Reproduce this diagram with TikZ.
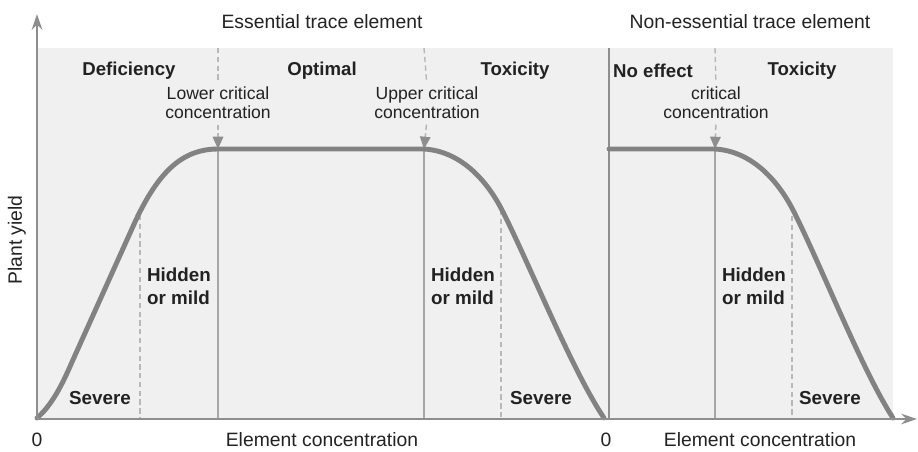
\documentclass[tikz,border=0pt]{standalone}
\usepackage{fontspec}
\setmainfont{Liberation Sans}
\usetikzlibrary{arrows.meta}
\definecolor{panelfill}{HTML}{F0F0F0}
\definecolor{curvegray}{HTML}{828282}
\definecolor{axisgray}{HTML}{8E8E8E}
\definecolor{linegray}{HTML}{A6A6A6}
\definecolor{dashgray}{HTML}{B8B8B8}
\definecolor{ink}{HTML}{222222}
\begin{document}
\begin{tikzpicture}[x=0.02cm, y=-0.02cm,
    every node/.style={text=ink, inner sep=0pt},
    title/.style={font=\fontsize{11}{13}\selectfont},
    region/.style={font=\fontsize{10.6}{12}\selectfont\bfseries},
    symptom/.style={font=\fontsize{10.7}{13}\selectfont\bfseries, align=left},
    critical/.style={font=\fontsize{10}{10.8}\selectfont, align=center},
    axislabel/.style={font=\fontsize{11}{13}\selectfont},
    axis/.style={axisgray, line width=1.1pt, -{Stealth[width=6pt,length=9pt]}},
    border/.style={linegray, line width=0.9pt},
    boundary/.style={dashgray, line width=0.8pt, dash pattern=on 3pt off 2pt},
    pointer/.style={dashgray, line width=0.9pt, dash pattern=on 3pt off 2pt,
                    -{Triangle[width=6pt,length=7pt,color=axisgray]}},
    yieldcurve/.style={curvegray, line width=2.8pt, line cap=round, line join=round}]
  \useasboundingbox (0,0) rectangle (918,451);
  % panels
  \fill[panelfill] (37,48) rectangle (893,419);
  \coordinate (origin) at (37,419);
  \coordinate (ytip) at (37,14);
  \coordinate (xtip) at (917,419);
  \coordinate (origintwo) at (609,419);
  \coordinate (paneltop) at (609,48);
  \draw[border, line width=1.1pt, axisgray] (origintwo) -- (paneltop);

  % titles and regions
  \node[title] (essential) at (322,22) {Essential trace element};
  \node[title] (nonessential) at (750,22) {Non-essential trace element};
  \node[region] (deficiency) at (129,71) {Deficiency};
  \node[region] (optimal) at (322,71) {Optimal};
  \node[region] (toxicone) at (515,71) {Toxicity};
  \node[region] (noeffect) at (653,71) {No effect};
  \node[region] (toxictwo) at (802,71) {Toxicity};

  % critical concentrations
  \node[critical] (lower) at (218,103) {Lower critical\\concentration};
  \node[critical] (upper) at (427,103) {Upper critical\\concentration};
  \node[critical] (crit) at (716,103) {critical\\concentration};
  \coordinate (lowertop) at (218,48);
  \coordinate (lowerpeak) at (218,149);
  \coordinate (lowerfoot) at (218,419);
  \coordinate (uppertop) at (424,48);
  \coordinate (upperpeak) at (424,149);
  \coordinate (upperfoot) at (424,419);
  \coordinate (crittop) at (715,48);
  \coordinate (critpeak) at (715,149);
  \coordinate (critfoot) at (715,419);
  \draw[boundary, shorten >=3pt] (lowertop) -- (lower.north);
  \draw[boundary, shorten >=3pt] (uppertop) -- (upper.north);
  \draw[boundary, shorten >=3pt] (crittop) -- (crit.north);
  \draw[pointer, shorten <=3pt] (lower.south) -- (lowerpeak);
  \draw[pointer, shorten <=3pt] (upper.south) -- (upperpeak);
  \draw[pointer, shorten <=3pt] (crit.south) -- (critpeak);
  \draw[border] (lowerpeak) -- (lowerfoot);
  \draw[border] (upperpeak) -- (upperfoot);
  \draw[border] (critpeak) -- (critfoot);

  % severe / mild boundaries
  \coordinate (mildone) at (140,215);
  \coordinate (mildonefoot) at (140,419);
  \coordinate (mildtwo) at (501,210);
  \coordinate (mildtwofoot) at (501,419);
  \coordinate (mildthree) at (792,216);
  \coordinate (mildthreefoot) at (792,419);
  \draw[boundary] (mildone) -- (mildonefoot);
  \draw[boundary] (mildtwo) -- (mildtwofoot);
  \draw[boundary] (mildthree) -- (mildthreefoot);
  \node[symptom] (hiddenone) at (179,286) {Hidden\\or mild};
  \node[symptom] (hiddentwo) at (463,286) {Hidden\\or mild};
  \node[symptom] (hiddenthree) at (754,286) {Hidden\\or mild};
  \node[symptom] (severeone) at (100,398) {Severe};
  \node[symptom] (severetwo) at (541,398) {Severe};
  \node[symptom] (severethree) at (830,398) {Severe};

  % yield curves
  \draw[yieldcurve] (37,418) .. controls (52,405) and (62,385) .. (72,362)
    -- (135,222) .. controls (160,168) and (185,149) .. (218,149) -- (424,149)
    .. controls (459,151) and (486,178) .. (503,212)
    .. controls (532,270) and (572,370) .. (604,418);
  \draw[yieldcurve] (609,149) -- (715,149)
    .. controls (750,151) and (777,178) .. (794,212)
    .. controls (823,270) and (862,370) .. (893,418);

  % axes
  \draw[axis] (origin) -- (ytip);
  \draw[axis] (origin) -- (xtip);
  \node[axislabel, rotate=90] (yield) at (17,240) {Plant yield};
  \node[axislabel] (zeroone) at (37,440) {0};
  \node[axislabel] (zerotwo) at (606,440) {0};
  \node[axislabel] (concone) at (322,440) {Element concentration};
  \node[axislabel] (conctwo) at (760,440) {Element concentration};
\end{tikzpicture}
\end{document}
